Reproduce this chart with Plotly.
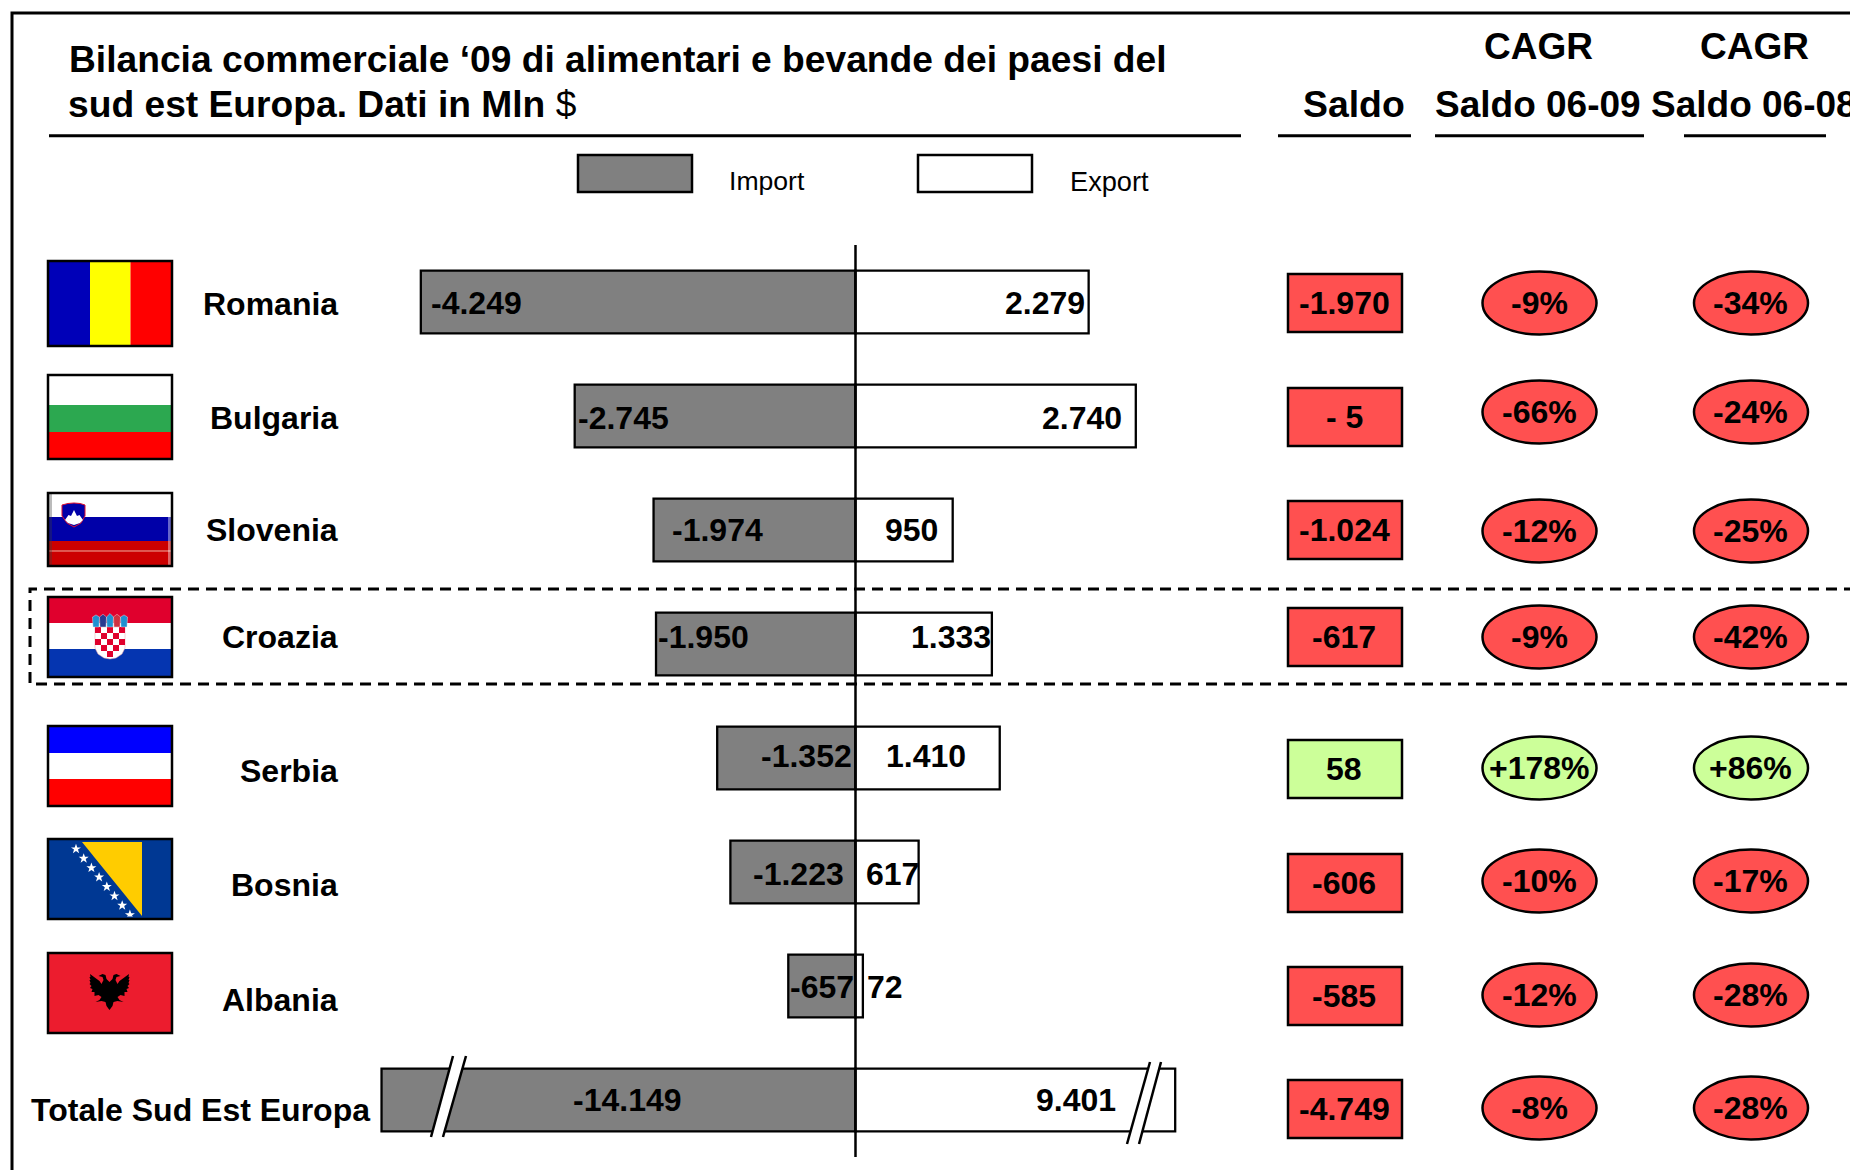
import plotly.graph_objects as go

W, H = 1850, 1170

# ---------- data ----------
countries = ["Romania", "Bulgaria", "Slovenia", "Croazia", "Serbia", "Bosnia", "Albania", "Totale Sud Est Europa"]
imports = [-4249, -2745, -1974, -1950, -1352, -1223, -657, -14149]
exports = [2279, 2740, 950, 1333, 1410, 617, 72, 9401]
# The total bars are drawn with a broken axis, so their drawn length differs from the value.
imports_drawn = [-4249, -2745, -1974, -1950, -1352, -1223, -657, -4633]
exports_drawn = [2279, 2740, 950, 1333, 1410, 617, 72, 3125]
import_labels = ["-4.249", "-2.745", "-1.974", "-1.950", "-1.352", "-1.223", "-657", "-14.149"]
export_labels = ["2.279", "2.740", "950", "1.333", "1.410", "617", "72", "9.401"]
saldo_labels = ["-1.970", "- 5", "-1.024", "-617", "58", "-606", "-585", "-4.749"]
saldo_values = [-1970, -5, -1024, -617, 58, -606, -585, -4749]
cagr_0609 = ["-9%", "-66%", "-12%", "-9%", "+178%", "-10%", "-12%", "-8%"]
cagr_0608 = ["-34%", "-24%", "-25%", "-42%", "+86%", "-17%", "-28%", "-28%"]

# ---------- layout constants ----------
ZERO_PX, PX_PER_UNIT = 855.5, 0.1023
ROW0_PX, ROW_STEP = 302, 114
FONT = "Liberation Sans"
GRAY, RED, GREEN = "#808080", "#FF5050", "#CCFF99"

shapes, anns = [], []


def X(x):
    return x / W


def Y(y):
    return 1 - y / H


def rect(x0, y0, x1, y1, fill="rgba(0,0,0,0)", lw=0, color="black", kind="rect", dash=None):
    line = dict(width=lw, color=color)
    if dash:
        line["dash"] = dash
    shapes.append(dict(type=kind, xref="paper", yref="paper", x0=X(x0), x1=X(x1), y0=Y(y0), y1=Y(y1),
                       fillcolor=fill, line=line, layer="above"))


def poly(pts, fill="rgba(0,0,0,0)", lw=0, color="black", closed=True, dash=None):
    d = "M " + " L ".join(f"{X(a):.5f} {Y(b):.5f}" for a, b in pts) + (" Z" if closed else "")
    line = dict(width=lw, color=color)
    if dash:
        line["dash"] = dash
    shapes.append(dict(type="path", xref="paper", yref="paper", path=d, fillcolor=fill, line=line, layer="above"))


def label(x, y, s, size=32, anchor="left", bold=True):
    anns.append(dict(xref="paper", yref="paper", x=X(x), y=Y(y), text=f"<b>{s}</b>" if bold else s,
                     showarrow=False, xanchor=anchor, yanchor="middle", borderpad=0,
                     font=dict(family=FONT, size=size, color="black")))


# ---------- frame and headers ----------
poly([(12, H + 5), (12, 13), (W + 5, 13)], lw=3, closed=False)
label(68, 59, "Bilancia commerciale ‘09 di alimentari e bevande dei paesi del", 37.2)
label(67, 104, "<b>sud est Europa. Dati in Mln </b>$", 37.2, bold=False)
label(1406, 104, "Saldo", 37.4, "right")
label(1538, 47, "CAGR", 37, "center")
label(1538, 104, "Saldo 06-09", 37, "center")
label(1754, 47, "CAGR", 37, "center")
label(1650, 104, "Saldo 06-08", 37, "left")
for x0, x1 in [(49, 1241), (1278, 1411), (1435, 1644), (1684, 1826)]:
    poly([(x0, 135.7), (x1, 135.7)], lw=3, closed=False)

# legend
rect(578, 155, 692, 192, GRAY, 2.5)
rect(918, 155, 1032, 192, "white", 2.5)
label(728, 181, "Import", 26.6, bold=False)
label(1069, 181, "Export", 27.2, bold=False)

# highlight box around Croazia
poly([(W + 5, 589), (30, 589), (30, 684), (W + 5, 684)], lw=3, closed=False, dash="11px,7px")

# ---------- flags ----------
FX0, FX1 = 48, 172


def hflag(y0, y1, bands):
    for (a, b, c) in bands:
        rect(FX0, a, FX1, b, c)


# Romania
rect(FX0, 261, 90, 346, "#0000B8")
rect(90, 261, 130.5, 346, "#FFFF00")
rect(130.5, 261, FX1, 346, "#FF0000")
# Bulgaria
hflag(375, 459, [(375, 405, "white"), (405, 432, "#2CA850"), (432, 459, "#FF0000")])
# Slovenia
hflag(493, 566, [(493, 517, "white"), (517, 541, "#0000A8"), (541, 566, "#CC0000")])
poly([(48, 551), (172, 551)], lw=1, color="#F0B0A0", closed=False)
rect(48, 493, 52, 566, "rgba(60,60,60,0.35)")
rect(168, 505, 172, 566, "rgba(255,255,255,0.4)")
poly([(62, 505), (68, 503.5), (74, 503), (80, 503.5), (85, 505), (85, 516), (81, 523), (74, 527), (67, 523), (62, 516)],
     "#0000A8", 1, "#E01030")
poly([(65, 520), (68.5, 515), (71, 516), (74, 510), (77, 516), (79.5, 515), (83, 520), (80, 523), (74, 525), (68, 523)], "white")
# Croazia
hflag(597, 677, [(597, 623, "#E0002D"), (623, 649, "white"), (649, 677, "#0535B0")])
poly([(95, 627), (125, 627), (125, 648), (122, 654), (116, 658), (110, 659), (104, 658), (98, 654), (95, 648)], "white", 0.5, "#E8A0A8")
for r in range(5):
    for c in range(5):
        if (r + c) % 2 == 0 and not (r == 4 and c in (0, 4)):
            rect(95 + c * 6, 627 + r * 6, 101 + c * 6, 633 + r * 6, "#E0002D")
for i, col in enumerate(["#2090D0", "#2A3A90", "#2090D0", "#D03040", "#2090D0"]):
    x = 92.5 + i * 7
    poly([(x, 617), (x + 3.5, 613.5 + abs(i - 2) * 0.7), (x + 7, 617), (x + 6.5, 627), (x + 0.5, 627)], col, 0.4, "#F5F5F5")
# Serbia
hflag(726, 806, [(726, 753, "#0000FF"), (753, 779, "white"), (779, 806, "#FF0000")])
# Bosnia
rect(FX0, 839, FX1, 919, "#003893")
poly([(82, 842), (142, 842), (142, 916)], "#FFCC00")
star = [(0, -5.2), (1.3, -1.6), (5, -1.6), (2, 0.6), (3.1, 4.3), (0, 2.1), (-3.1, 4.3), (-2, 0.6), (-5, -1.6), (-1.3, -1.6)]
for i in range(8):
    cx, cy = 76 + i * 7.7, 849 + i * 9.4
    poly([(cx + a, min(cy + b, 916.5)) for a, b in star], "white")
# Albania
rect(FX0, 953, FX1, 1033, "#EC1C2E")
half = [(0, 982), (-3, 979), (-4, 975), (-7, 974), (-11, 976), (-7, 977), (-6, 980), (-8, 984), (-10, 981), (-19.5, 974),
        (-19, 977), (-20, 977), (-19, 980), (-20, 980), (-19, 983), (-20, 984), (-18, 986), (-19.5, 988), (-17, 989),
        (-18, 992), (-15, 992), (-15, 996), (-11, 995), (-8, 997), (-10, 1000), (-14, 1002), (-8, 1001), (-4, 1002),
        (-3, 1006), (0, 1010)]
poly([(109.5 + a, b) for a, b in half] + [(109.5 - a, b) for a, b in reversed(half)], "black")
# flag borders
for y0, y1 in [(261, 346), (375, 459), (493, 566), (597, 677), (726, 806), (839, 919), (953, 1033)]:
    rect(FX0, y0, FX1, y1, lw=2.5)

# ---------- labels of rows ----------
name_y = [304, 418, 530, 637, 771, 885, 1000, 1110]
for n, y in zip(countries[:-1], name_y):
    label(338.5, y, n, 32, "right")
label(30, name_y[-1], countries[-1], 32)

imp_x = [430, 577, 671, 657, 760, 752, 789, 572]
exp_x = [1004, 1041, 884, 910, 885, 865, 866, 1035]
lab_y = [303, 418, 530, 637, 756, 874, 987, 1100]
for t, x, y in zip(import_labels, imp_x, lab_y):
    label(x, y, t)
for t, x, y in zip(export_labels, exp_x, lab_y):
    label(x, y, t)

# ---------- saldo column ----------
box_y = [303, 417, 530, 637, 769, 883, 996, 1109]
for t, v, y in zip(saldo_labels, saldo_values, box_y):
    rect(1288, y - 29, 1402, y + 29, GREEN if v > 0 else RED, 2.5)
    label(1344, y, t, 32, "center")

# ---------- CAGR ellipses ----------
ell_y = [303, 412, 531, 637, 768, 881, 995, 1108]
for col, cx in [(cagr_0609, 1539.5), (cagr_0608, 1751)]:
    for t, y in zip(col, ell_y):
        rect(cx - 57, y - 31.5, cx + 57, y + 31.5, GREEN if t.startswith("+") else RED, 2.5, kind="circle")
        label(cx - 0.5, y, t, 32, "center")

# ---------- axis line and breaks (drawn above the bars) ----------
poly([(855.5, 245), (855.5, 1157)], lw=2.5, closed=False)
for p in [[(453, 1056), (466, 1056), (443, 1137), (431, 1137)], [(1150, 1062), (1161, 1062), (1139, 1144), (1127, 1144)]]:
    poly(p, "white")
    poly([p[0], p[3]], lw=2.5, closed=False)
    poly([p[1], p[2]], lw=2.5, closed=False)

# ---------- bars ----------
fig = go.Figure()
fig.add_bar(y=countries, x=imports_drawn, orientation="h", width=0.55, name="Import",
            marker=dict(color=GRAY, line=dict(color="black", width=2.3)), customdata=imports, showlegend=False)
fig.add_bar(y=countries, x=exports_drawn, orientation="h", width=0.55, name="Export",
            marker=dict(color="white", line=dict(color="black", width=2.3)), customdata=exports, showlegend=False)

fig.update_layout(
    width=W, height=H, margin=dict(l=0, r=0, t=0, b=0, pad=0), autosize=False,
    paper_bgcolor="white", plot_bgcolor="rgba(0,0,0,0)", barmode="overlay",
    shapes=shapes, annotations=anns, showlegend=False,
    xaxis=dict(range=[-ZERO_PX / PX_PER_UNIT, (W - ZERO_PX) / PX_PER_UNIT], visible=False, fixedrange=True),
    yaxis=dict(type="category", categoryorder="array", categoryarray=countries,
               range=[(H - ROW0_PX) / ROW_STEP, -ROW0_PX / ROW_STEP], visible=False, fixedrange=True),
)
fig.write_html("out.html", config=dict(displayModeBar=False),
               post_script="document.body.style.margin='0';document.body.style.overflow='hidden';")
